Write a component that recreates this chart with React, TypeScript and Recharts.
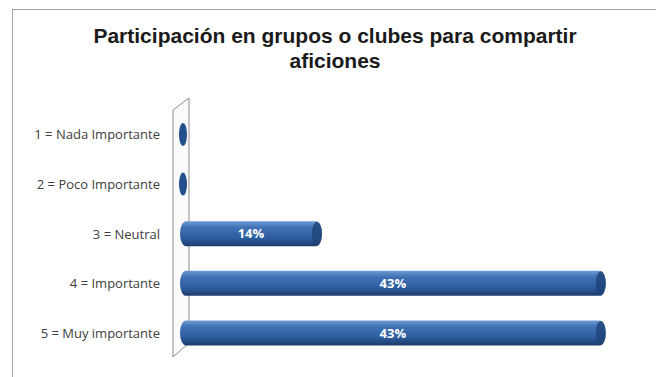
import React from 'react';
import { BarChart, Bar, XAxis, YAxis, LabelList } from 'recharts';

const categories = [
    '1 = Nada Importante',
    '2 = Poco Importante',
    '3 = Neutral',
    '4 = Importante',
    '5 = Muy importante',
];
const percentages = [0, 0, 14.29, 42.86, 42.86];

const data = categories.map((name, i) => ({ name, value: percentages[i] }));

// tube-like bar, zero values drawn as a flat ellipse
const TubeBar = (props: any) => {
    const { x, y, width, height } = props;
    if (!width || width < 2) {
        return (
            <ellipse cx={x + 3} cy={y + height / 2} rx={4} ry={height / 2 - 1} fill="#234f8c" />
        );
    }
    return (
        <g>
            <rect x={x} y={y} width={width} height={height} rx={6} ry={height / 2} fill="url(#tube)" />
            <ellipse cx={x + width - 5} cy={y + height / 2} rx={5} ry={height / 2 - 0.5} fill="#1f4377" opacity={0.8} />
        </g>
    );
};

export default function App() {
    return (
        <div
            style={{
                position: 'relative',
                width: 644,
                height: 380,
                marginLeft: 4,
                marginTop: 1,
                border: '1px solid #a6a6a6',
                background: '#fff',
            }}
        >
            <div
                style={{
                    position: 'absolute',
                    top: 13,
                    left: 0,
                    width: 644,
                    textAlign: 'center',
                    fontFamily: '"Liberation Sans", Arial, sans-serif',
                    fontWeight: 'bold',
                    fontSize: 21,
                    lineHeight: '25px',
                    color: '#1a1a1a',
                }}
            >
                Participación en grupos o clubes para compartir
                <br />
                aficiones
            </div>
            <svg width={644} height={380} style={{ position: 'absolute', top: 0, left: 0 }}>
                <polygon points="160,100 176,88 176,333 160,347" fill="#fbfbfb" stroke="#8c8c8c" strokeWidth={1} />
            </svg>
            <div style={{ position: 'absolute', top: 0, left: 0 }}>
                <BarChart
                    width={644}
                    height={368}
                    data={data}
                    layout="vertical"
                    margin={{ top: 100, right: 30, left: 0, bottom: 20 }}
                    barSize={25}
                >
                    <defs>
                        <linearGradient id="tube" x1="0" y1="0" x2="0" y2="1">
                            <stop offset="0%" stopColor="#6f9bd3" />
                            <stop offset="25%" stopColor="#3f72b5" />
                            <stop offset="70%" stopColor="#2c5b9c" />
                            <stop offset="100%" stopColor="#1b3b6a" />
                        </linearGradient>
                    </defs>
                    <XAxis type="number" domain={[0, 45]} hide />
                    <YAxis
                        type="category"
                        dataKey="name"
                        width={167}
                        axisLine={false}
                        tickLine={false}
                        tickMargin={14}
                        tick={{ fill: '#404040', fontSize: 13, fontFamily: '"Open Sans", sans-serif' }}
                    />
                    <Bar dataKey="value" shape={<TubeBar />} isAnimationActive={false}>
                        <LabelList
                            dataKey="value"
                            position="center"
                            formatter={(v: any) => (v > 0 ? `${Math.round(v)}%` : '')}
                            fill="#ffffff"
                            style={{ fontWeight: 'bold', fontSize: 13, fontFamily: '"Open Sans", sans-serif' }}
                        />
                    </Bar>
                </BarChart>
            </div>
        </div>
    );
}
